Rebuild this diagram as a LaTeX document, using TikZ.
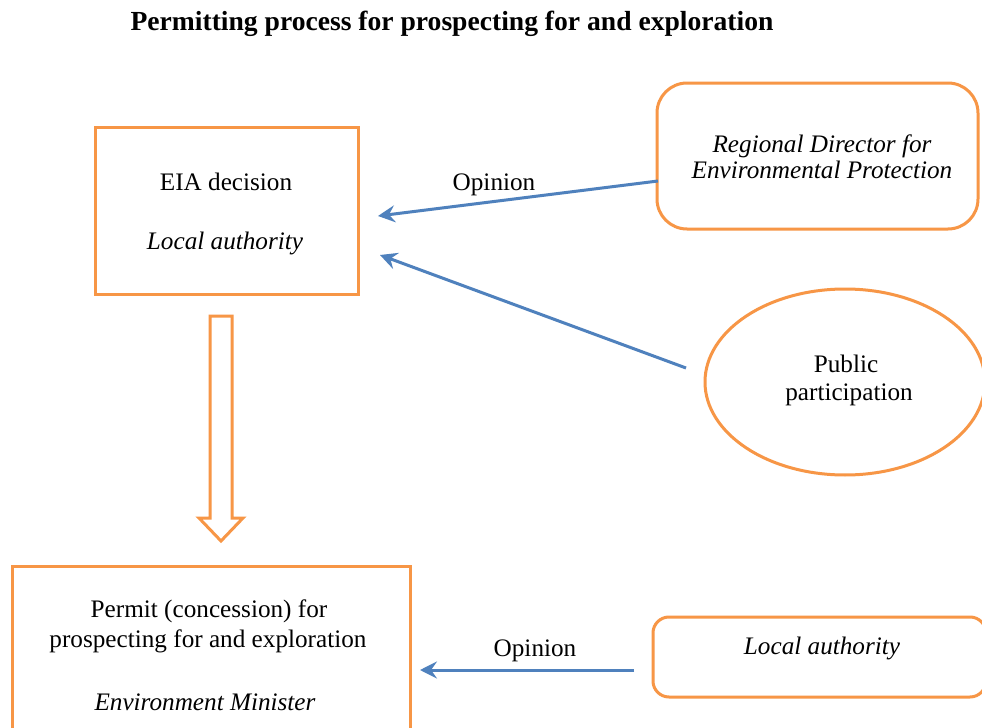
\documentclass[tikz,border=0pt]{standalone}
\usepackage{fontspec}
\setmainfont{Liberation Serif}
\usetikzlibrary{arrows.meta,shapes.geometric}
\definecolor{boxorange}{HTML}{F79646}
\definecolor{linkblue}{HTML}{4F81BD}
\begin{document}
\begin{tikzpicture}[x=0.5pt,y=-0.5pt,
  frame/.style={draw=boxorange,line width=1.5pt,inner sep=0pt},
  boxrect/.style={frame,rectangle},
  boxround/.style={frame,rectangle,rounded corners=#1},
  boxround/.default=15pt,
  boxoval/.style={frame,ellipse},
  label/.style={inner sep=0pt,anchor=base,font=\fontsize{12.6}{14}\selectfont},
  labelit/.style={label,font=\fontsize{12.6}{14}\selectfont\itshape},
  link/.style={draw=linkblue,line width=1.5pt,-{Stealth[length=8.5pt,width=8.5pt,inset=3pt]}},
  title/.style={inner sep=0pt,anchor=base,font=\fontsize{13.8}{16}\selectfont\bfseries}]
\useasboundingbox (0,0) rectangle (982,728);
\fill[white] (0,0) rectangle (982,728);
\clip (0,0) rectangle (982,728);

% heading
\node[title] (head) at (452,31) {Permitting process for prospecting for and exploration};

% boxes
\node[boxrect,minimum width=131.5pt,minimum height=83.5pt] (eia) at (226.5,210.5) {};
\node[boxround,minimum width=160.5pt,minimum height=73pt] (rdep) at (817.5,156) {};
\node[boxoval,minimum width=140pt,minimum height=93pt] (public) at (845,382) {};
\node[boxrect,minimum width=199pt,minimum height=97pt] (permit) at (211,663) {};
\node[boxround=8pt,minimum width=166.5pt,minimum height=40pt] (localb) at (819.5,657) {};

% box texts
\node[label] (eiat1) at (226,190) {EIA decision};
\node[labelit] (eiat2) at (225,249) {Local authority};
\node[labelit] (rdept1) at (822,152) {Regional Director for};
\node[labelit] (rdept2) at (822,178) {Environmental Protection};
\node[label] (pubt1) at (846,372) {Public};
\node[label] (pubt2) at (849,400) {participation};
\node[label] (permt1) at (209,617) {Permit (concession) for};
\node[label] (permt2) at (208,647) {prospecting for and exploration};
\node[labelit] (permt3) at (205,710) {Environment Minister};
\node[labelit] (localt) at (822,654) {Local authority};

% hollow block arrow from the EIA decision down to the permit
\draw[boxorange,line width=1.5pt,line join=miter]
  (210,316) -- (232,316) -- (232,518) -- (243,518) -- (221,541)
  -- (199,518) -- (210,518) -- cycle;

% opinion connectors
\coordinate (s1) at (658,181);
\coordinate (t1) at (378,216);
\coordinate (s2) at (686,368);
\coordinate (t2) at (380,255);
\coordinate (s3) at (634,670);
\coordinate (t3) at (420,670);
\draw[link] (s1) -- (t1);
\draw[link] (s2) -- (t2);
\draw[link] (s3) -- (t3);
\node[label] (op1) at (494,190) {Opinion};
\node[label] (op2) at (535,656) {Opinion};
\end{tikzpicture}
\end{document}
